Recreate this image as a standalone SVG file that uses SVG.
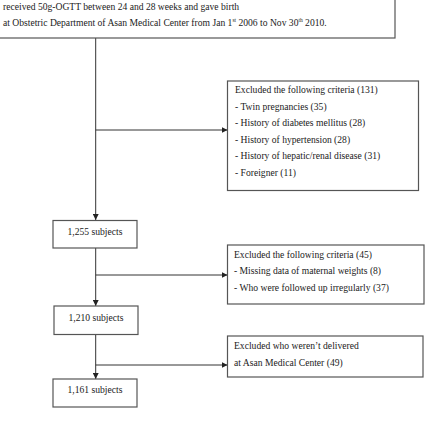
<svg xmlns="http://www.w3.org/2000/svg" width="427" height="421" viewBox="0 0 427 421">
<style>
.box{fill:#fff;stroke:#555;stroke-width:1.2}
.t{font-family:"Liberation Serif","Times New Roman",serif;font-size:9.6px;fill:#222}
.c{text-anchor:middle}
.ln{stroke:#333;stroke-width:1;fill:none}
</style>
<defs>
<marker id="ah" markerWidth="6" markerHeight="6" refX="6" refY="3" orient="auto" markerUnits="userSpaceOnUse">
<path d="M0,0 L6,3 L0,6 Z" fill="#222"/>
</marker>
</defs>
<rect width="427" height="421" fill="#fff"/>
<g id="connectors">
<line class="ln" x1="95.7" y1="38" x2="95.7" y2="220" marker-end="url(#ah)"/>
<line class="ln" x1="95.7" y1="130" x2="227.5" y2="130" marker-end="url(#ah)"/>
<line class="ln" x1="95.7" y1="248" x2="95.7" y2="306" marker-end="url(#ah)"/>
<line class="ln" x1="95.7" y1="275" x2="227.5" y2="275" marker-end="url(#ah)"/>
<line class="ln" x1="95.7" y1="334" x2="95.7" y2="379" marker-end="url(#ah)"/>
<line class="ln" x1="95.7" y1="365" x2="227.5" y2="365" marker-end="url(#ah)"/>
</g>
<g id="top">
<rect class="box" x="-5" y="-5" width="400" height="43"/>
<text class="t" x="3" y="9.5">received 50g-OGTT between 24 and 28 weeks and gave birth</text>
<text class="t" x="3" y="25.5">at Obstetric Department of Asan Medical Center from Jan 1<tspan font-size="5.5" dy="-3.5">st</tspan><tspan dy="3.5"> 2006 to Nov 30</tspan><tspan font-size="5.5" dy="-3.5">th</tspan><tspan dy="3.5"> 2010.</tspan></text>
</g>
<g id="excl1">
<rect class="box" x="227.5" y="81" width="191" height="109.5"/>
<text class="t" x="235" y="93">Excluded the following criteria (131)</text>
<text class="t" x="235" y="109.5">- Twin pregnancies (35)</text>
<text class="t" x="235" y="126">- History of diabetes mellitus (28)</text>
<text class="t" x="235" y="142.5">- History of hypertension (28)</text>
<text class="t" x="235" y="159">- History of hepatic/renal disease (31)</text>
<text class="t" x="235" y="175.5">- Foreigner (11)</text>
</g>
<g id="n1255">
<rect class="box" x="53" y="220.5" width="84" height="27.5"/>
<text class="t c" x="95" y="235">1,255 subjects</text>
</g>
<g id="excl2">
<rect class="box" x="227.5" y="245" width="196.5" height="59"/>
<text class="t" x="234" y="257.5">Excluded the following criteria (45)</text>
<text class="t" x="234" y="274">- Missing data of maternal weights (8)</text>
<text class="t" x="234" y="290.5">- Who were followed up irregularly (37)</text>
</g>
<g id="n1210">
<rect class="box" x="54" y="306" width="84" height="28.5"/>
<text class="t c" x="96" y="320.5">1,210 subjects</text>
</g>
<g id="excl3">
<rect class="box" x="227.5" y="336" width="195.5" height="41"/>
<text class="t" x="234" y="349">Excluded who weren’t delivered</text>
<text class="t" x="234" y="366">at Asan Medical Center (49)</text>
</g>
<g id="n1161">
<rect class="box" x="53" y="379" width="84" height="28"/>
<text class="t c" x="95" y="393">1,161 subjects</text>
</g>
</svg>
